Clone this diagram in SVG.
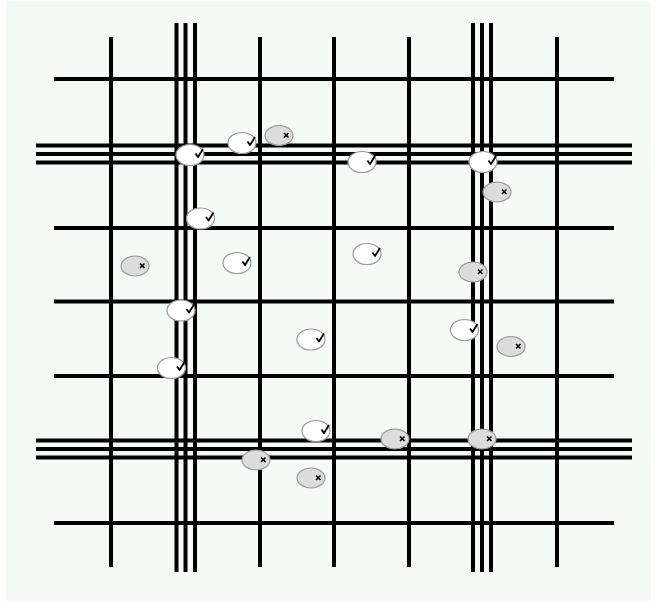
<svg xmlns="http://www.w3.org/2000/svg" width="657" height="606" viewBox="0 0 657 606">
<style>
.bg{fill:#f5faf7}
.ln{stroke:#000;stroke-width:4;fill:none}
.ok{fill:#fff;stroke:#999;stroke-width:1.2}
.no{fill:#dcdcdc;stroke:#999;stroke-width:1.2}
.ck{fill:none;stroke:#000;stroke-width:1.8;stroke-linejoin:round}
.xx{fill:none;stroke:#000;stroke-width:1.6}
</style>
<defs>
<g id="good"><ellipse class="ok" cx="0" cy="0" rx="14" ry="10.5"/><path class="ck" d="M5.5,-1.5 L8,2 L13,-6"/></g>
<g id="bad"><ellipse class="no" cx="0" cy="0" rx="14" ry="10"/><path class="xx" d="M5,-2.5 L9.5,2 M9.5,-2.5 L5,2"/></g>
</defs>
<rect x="0" y="0" width="657" height="606" fill="#fff"/>
<rect class="bg" x="6" y="1" width="645" height="600"/>
<g id="grid">
<line class="ln" x1="54" y1="79" x2="614" y2="79"/>
<line class="ln" x1="54" y1="228" x2="614" y2="228"/>
<line class="ln" x1="54" y1="301.5" x2="614" y2="301.5"/>
<line class="ln" x1="54" y1="376" x2="614" y2="376"/>
<line class="ln" x1="54" y1="523" x2="614" y2="523"/>
<line class="ln" x1="36" y1="145.5" x2="632" y2="145.5"/>
<line class="ln" x1="36" y1="154" x2="632" y2="154"/>
<line class="ln" x1="36" y1="162.5" x2="632" y2="162.5"/>
<line class="ln" x1="36" y1="440.5" x2="632" y2="440.5"/>
<line class="ln" x1="36" y1="449" x2="632" y2="449"/>
<line class="ln" x1="36" y1="457.5" x2="632" y2="457.5"/>
<line class="ln" x1="111" y1="37" x2="111" y2="567"/>
<line class="ln" x1="260" y1="37" x2="260" y2="567"/>
<line class="ln" x1="334" y1="37" x2="334" y2="567"/>
<line class="ln" x1="409" y1="37" x2="409" y2="567"/>
<line class="ln" x1="557" y1="37" x2="557" y2="567"/>
<line class="ln" x1="176.5" y1="23" x2="176.5" y2="572"/>
<line class="ln" x1="185.5" y1="23" x2="185.5" y2="572"/>
<line class="ln" x1="195" y1="23" x2="195" y2="572"/>
<line class="ln" x1="473" y1="23" x2="473" y2="572"/>
<line class="ln" x1="482" y1="23" x2="482" y2="572"/>
<line class="ln" x1="491" y1="23" x2="491" y2="572"/>
</g>
<g id="n1"><use href="#good" x="190" y="155"/></g>
<g id="n2"><use href="#good" x="242" y="143"/></g>
<g id="n3"><use href="#bad" x="279" y="135.5"/></g>
<g id="n4"><use href="#good" x="362" y="162"/></g>
<g id="n5"><use href="#good" x="483" y="162"/></g>
<g id="n6"><use href="#bad" x="497" y="192"/></g>
<g id="n7"><use href="#good" x="200.5" y="218.5"/></g>
<g id="n8"><use href="#bad" x="135" y="266"/></g>
<g id="n9"><use href="#good" x="237" y="263"/></g>
<g id="n10"><use href="#good" x="367" y="254"/></g>
<g id="n11"><use href="#bad" x="473" y="272"/></g>
<g id="n12"><use href="#good" x="181" y="310.5"/></g>
<g id="n13"><use href="#good" x="464.5" y="330"/></g>
<g id="n14"><use href="#bad" x="511" y="346.5"/></g>
<g id="n15"><use href="#good" x="311" y="339.5"/></g>
<g id="n16"><use href="#good" x="171.5" y="368"/></g>
<g id="n17"><use href="#good" x="316" y="431"/></g>
<g id="n18"><use href="#bad" x="395" y="439"/></g>
<g id="n19"><use href="#bad" x="482" y="439"/></g>
<g id="n20"><use href="#bad" x="256" y="460"/></g>
<g id="n21"><use href="#bad" x="311" y="478"/></g>
</svg>
